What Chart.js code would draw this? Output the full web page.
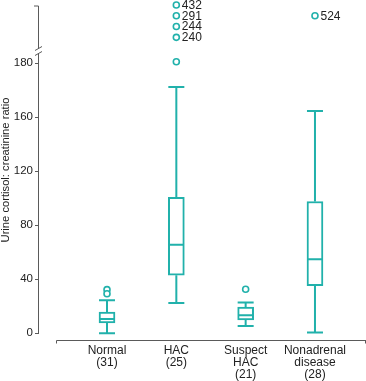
<!DOCTYPE html>
<html>
<head>
<meta charset="utf-8">
<script src="https://cdn.jsdelivr.net/npm/chart.js@4/dist/chart.umd.min.js"></script>
<style>
  html, body { margin: 0; padding: 0; background: #ffffff; }
  #wrap { width: 366px; height: 381px; }
</style>
</head>
<body>
<div id="wrap"><canvas id="c" width="366" height="381"></canvas></div>
<script>
// ---- data ----
const categories = [['Normal', '(31)'], ['HAC', '(25)'], ['Suspect', 'HAC', '(21)'], ['Nonadrenal', 'disease', '(28)']];
const whiskerLow  = [0, 22.4, 5.4, 0.6];
const q1          = [7.6, 43, 9.9, 35.3];
const median      = [10.6, 65.6, 13.3, 54.9];
const q3          = [15.6, 100.7, 19.3, 97.6];
const whiskerHigh = [24.4, 182.4, 22.7, 164.7];
// outliers below the axis break
const outlierGroup = [0, 0, 1, 2];
const outlierValue = [32.3, 29.3, 201.2, 32.6];
// outliers above the axis break (stacked by rank, labelled with value)
const topGroup = [1, 1, 1, 1, 3];
const topRank  = [1, 2, 3, 4, 2];
const topValue = [432, 291, 244, 240, 524];
// y tick positions and their printed labels
const yTickValues = [0, 40, 80, 120, 160, 200];
const yTickLabels = ['0', '40', '80', '120', '160', '180'];

const TEAL = '#21b1ab';
const AXIS = '#5a5a5a';
const FONT = "'Liberation Sans', Arial, sans-serif";

const boxPlugin = {
  id: 'boxWhiskers',
  afterDatasetsDraw(chart) {
    const ctx = chart.ctx, x = chart.scales.x, y = chart.scales.y;
    const half = 8;
    ctx.save();
    ctx.strokeStyle = TEAL;
    ctx.lineWidth = 2;
    ctx.lineCap = 'butt';
    for (let i = 0; i < categories.length; i++) {
      const cx = x.getPixelForValue(i);
      const yl = y.getPixelForValue(whiskerLow[i]);
      const y1 = y.getPixelForValue(q1[i]);
      const ym = y.getPixelForValue(median[i]);
      const y3 = y.getPixelForValue(q3[i]);
      const yh = y.getPixelForValue(whiskerHigh[i]);
      ctx.beginPath();
      ctx.moveTo(cx, y1); ctx.lineTo(cx, yl);
      ctx.moveTo(cx, y3); ctx.lineTo(cx, yh);
      ctx.moveTo(cx - half, yl); ctx.lineTo(cx + half, yl);
      ctx.moveTo(cx - half, yh); ctx.lineTo(cx + half, yh);
      ctx.moveTo(cx - half + 1, ym); ctx.lineTo(cx + half - 1, ym);
      ctx.stroke();
    }
    // labels for outliers above the break
    const yt = chart.scales.yTop;
    ctx.fillStyle = '#222';
    ctx.font = '12px ' + FONT;
    ctx.textAlign = 'left';
    ctx.textBaseline = 'middle';
    for (let k = 0; k < topValue.length; k++) {
      ctx.fillText(String(topValue[k]), x.getPixelForValue(topGroup[k]) + 5.5, yt.getPixelForValue(topRank[k]) + 0.5);
    }
    ctx.restore();
  }
};

const axisPlugin = {
  id: 'brokenAxes',
  afterDraw(chart) {
    const ctx = chart.ctx, a = chart.chartArea, y = chart.scales.y;
    const ax = Math.round(a.left) - 0.5;
    ctx.save();
    ctx.strokeStyle = AXIS;
    ctx.lineWidth = 1;
    ctx.beginPath();
    // lower y-axis segment
    ctx.moveTo(ax, y.getPixelForValue(0) + 0.5);
    ctx.lineTo(ax, 53);
    // upper y-axis segment
    ctx.moveTo(ax, 48.5);
    ctx.lineTo(ax, 6);
    ctx.lineTo(ax - 4.5, 6);
    // break marks
    ctx.moveTo(ax - 3.5, 50.5); ctx.lineTo(ax + 3.5, 46.5);
    ctx.moveTo(ax - 3.5, 55.5); ctx.lineTo(ax + 3.5, 51.5);
    // x axis line
    const by = Math.round(a.bottom) + 0.5;
    ctx.moveTo(56.5, by + 3); ctx.lineTo(56.5, by); ctx.lineTo(a.right, by);
    ctx.moveTo(a.right - 0.5, by); ctx.lineTo(a.right - 0.5, by + 3);
    ctx.stroke();
    ctx.restore();
  }
};

function noPad(s) {
  s.paddingTop = 0; s.paddingBottom = 0; s.paddingLeft = 0; s.paddingRight = 0;
}

new Chart(document.getElementById('c'), {
  type: 'bar',
  data: {
    datasets: [
      {
        type: 'bar',
        data: categories.map((c, i) => ({ x: i, y: [q1[i], q3[i]] })),
        backgroundColor: '#ffffff',
        borderColor: TEAL,
        borderWidth: 2,
        borderSkipped: false,
        barThickness: 16,
        xAxisID: 'x', yAxisID: 'y'
      },
      {
        type: 'scatter',
        data: outlierValue.map((v, k) => ({ x: outlierGroup[k], y: v })),
        pointRadius: 3,
        pointBorderWidth: 1.6,
        pointBorderColor: TEAL,
        pointBackgroundColor: '#ffffff',
        clip: false,
        xAxisID: 'x', yAxisID: 'y'
      },
      {
        type: 'scatter',
        data: topRank.map((r, k) => ({ x: topGroup[k], y: r })),
        pointRadius: 3,
        pointBorderWidth: 1.6,
        pointBorderColor: TEAL,
        pointBackgroundColor: '#ffffff',
        clip: false,
        xAxisID: 'x', yAxisID: 'yTop'
      }
    ]
  },
  options: {
    responsive: false,
    animation: false,
    devicePixelRatio: 1,
    layout: { padding: 0, autoPadding: false },
    plugins: { legend: { display: false }, tooltip: { enabled: false } },
    scales: {
      x: {
        type: 'linear',
        position: 'bottom',
        offset: false,
        min: -0.981, max: 3.736,
        grid: { display: false, drawTicks: false, offset: false },
        border: { display: false },
        afterBuildTicks: s => { s.ticks = categories.map((c, i) => ({ value: i })); },
        afterFit: s => { s.height = 41; noPad(s); },
        ticks: {
          autoSkip: false, maxRotation: 0, padding: 5,
          color: '#222',
          font: { family: FONT, size: 12, lineHeight: 0.98 },
          callback: (v) => categories[v]
        }
      },
      y: {
        type: 'linear',
        position: 'left',
        min: -5, max: 246.9,
        grid: { display: true, drawOnChartArea: false, drawTicks: true, tickLength: 4, color: AXIS },
        border: { display: false },
        afterBuildTicks: s => { s.ticks = yTickValues.map(v => ({ value: v })); },
        afterFit: s => { s.width = 39; noPad(s); },
        ticks: {
          padding: 2,
          color: '#222',
          font: { family: FONT, size: 11.5 },
          callback: (v, i) => yTickLabels[i]
        },
        title: {
          display: true,
          text: 'Urine cortisol: creatinine ratio',
          color: '#222',
          padding: { top: 0, bottom: 0 },
          font: { family: FONT, size: 11.2, lineHeight: 1 }
        }
      },
      yTop: {
        type: 'linear',
        display: false,
        reverse: true,
        min: 0.54, max: 32.02
      }
    }
  },
  plugins: [boxPlugin, axisPlugin]
});
</script>
</body>
</html>
